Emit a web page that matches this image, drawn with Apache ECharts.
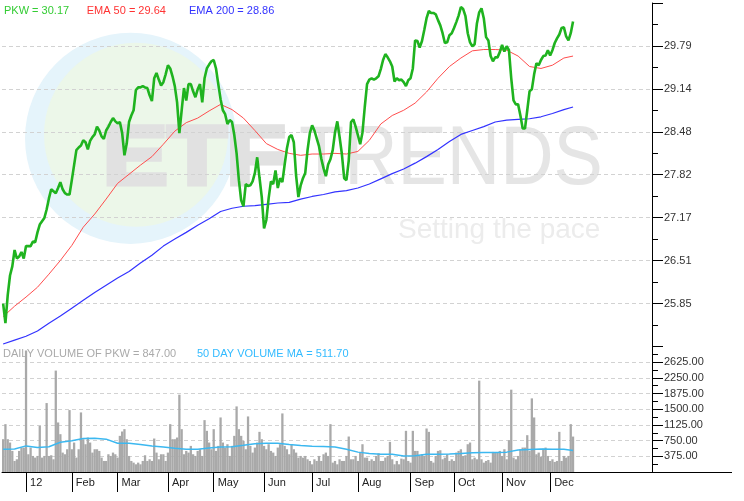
<!DOCTYPE html>
<html><head><meta charset="utf-8">
<script src="https://cdn.jsdelivr.net/npm/echarts@6/dist/echarts.min.js"></script>
<style>html,body{margin:0;padding:0;background:#fff}#c{width:744px;height:501px}</style>
</head><body><div id="c"></div>
<script>
const monthLabels = ['12','Feb','Mar','Apr','May','Jun','Jul','Aug','Sep','Oct','Nov','Dec'];
const monthStarts = [10,30,50,72,92,114,135,155,178,197,218,239];
const slotCount = 284;

const price = [
25.85,25.55,25.98,26.28,26.42,26.67,26.54,26.57,26.64,26.54,
26.73,26.73,26.73,26.80,26.79,26.94,27.06,27.11,27.16,27.29,
27.46,27.60,27.57,27.54,27.62,27.71,27.60,27.54,27.52,27.52,
27.74,27.97,28.20,28.24,28.27,28.35,28.32,28.21,28.34,28.40,
28.44,28.56,28.50,28.41,28.37,28.50,28.56,28.63,28.69,28.64,
28.61,28.63,28.46,28.12,28.30,28.63,28.73,28.81,29.12,29.16,
29.16,29.18,29.16,29.15,29.04,28.95,29.30,29.38,29.28,29.19,
29.24,29.36,29.50,29.45,29.33,29.18,28.93,28.46,28.81,29.15,
28.96,29.21,29.21,29.10,29.01,29.13,29.21,28.93,29.30,29.45,
29.51,29.56,29.58,29.45,29.21,28.98,28.81,28.75,28.60,28.66,
28.63,28.43,28.15,27.74,27.43,27.34,27.68,27.65,27.66,27.72,
27.85,28.09,27.78,27.48,27.00,27.13,27.46,27.72,27.68,27.89,
27.62,27.77,27.71,27.98,28.23,28.40,28.43,28.32,27.81,27.48,
27.66,27.77,27.85,28.20,28.46,28.58,28.50,28.38,28.26,28.07,
27.92,27.80,27.98,28.06,28.20,28.47,28.64,28.40,28.14,27.77,
27.74,28.04,28.63,28.67,28.56,28.43,28.29,28.47,28.86,29.21,
29.28,29.30,29.28,29.30,29.33,29.44,29.58,29.67,29.62,29.56,
29.48,29.25,29.30,29.27,29.28,29.24,29.18,29.27,29.30,29.45,
29.88,29.87,29.77,29.87,30.04,30.22,30.33,30.30,30.30,30.28,
30.19,30.11,29.99,29.84,29.85,29.96,29.99,30.07,30.16,30.26,
30.39,30.36,30.25,29.99,29.85,29.79,29.82,30.14,30.31,30.37,
30.22,29.93,29.88,29.64,29.56,29.62,29.62,29.70,29.81,29.71,
29.79,29.73,29.30,28.96,28.90,28.90,28.73,28.53,28.53,28.81,
29.10,29.13,29.36,29.53,29.50,29.58,29.64,29.65,29.73,29.65,
29.73,29.84,29.91,29.97,30.07,30.08,29.94,29.88,29.99,30.17
];

const emaIdx = [0,5,10,15,20,25,30,35,40,45,50,55,60,65,70,75,80,85,90,95,100,105,110,115,120,125,130,135,140,145,150,155,160,165,170,175,180,185,190,195,200,205,210,215,220,225,230,235,240,245,249];
const ema50Vals = [
25.65,25.81,25.95,26.10,26.30,26.51,26.74,27.02,27.22,27.45,
27.69,27.83,27.97,28.10,28.29,28.49,28.62,28.69,28.80,28.90,
28.82,28.69,28.50,28.30,28.21,28.15,28.12,28.14,28.14,28.15,
28.14,28.18,28.35,28.60,28.73,28.81,28.92,29.09,29.30,29.48,
29.61,29.72,29.74,29.74,29.73,29.64,29.48,29.45,29.50,29.61,
29.64];
const ema200Vals = [
25.23,25.29,25.35,25.43,25.55,25.66,25.78,25.90,26.02,26.13,
26.24,26.34,26.47,26.59,26.73,26.84,26.94,27.05,27.15,27.26,
27.31,27.34,27.35,27.37,27.39,27.40,27.45,27.49,27.52,27.56,
27.58,27.62,27.68,27.76,27.84,27.91,28.00,28.10,28.21,28.33,
28.44,28.50,28.56,28.63,28.66,28.67,28.68,28.71,28.76,28.82,
28.86];

const volume = [
784,1144,784,704,504,264,304,504,584,584,
2904,424,584,384,344,384,1104,344,384,1648,
384,400,304,2424,1184,904,464,424,544,1480,
544,704,344,544,1424,784,664,824,704,464,
544,544,504,344,264,264,424,384,464,424,
344,864,968,1024,784,384,264,224,184,224,
184,264,400,264,304,264,800,464,304,424,
424,264,464,1144,784,784,824,1848,1024,424,
504,464,624,424,384,504,544,384,1240,984,
704,544,1024,504,624,1304,704,584,664,384,
624,864,1568,1024,864,744,544,1328,624,464,
584,704,960,784,624,544,664,504,464,384,
584,664,1400,624,544,424,664,544,464,344,
384,344,384,304,264,184,304,264,384,264,
424,464,384,1144,224,264,184,304,264,264,
384,848,304,304,384,264,464,664,344,344,
264,304,264,384,448,264,264,344,384,720,
304,184,264,184,320,304,984,264,224,984,
504,504,384,424,384,1040,960,264,224,384,
504,520,304,344,424,264,304,264,464,504,
544,384,400,664,704,304,344,304,2184,304,
224,264,288,224,480,464,464,504,384,544,
304,760,1968,344,304,384,544,584,584,880,
504,1760,1304,424,464,368,560,584,384,264,
304,240,264,960,264,384,344,384,1144,847
];
const volMAVals = [
544,550,624,585,605,710,745,800,808,785,
688,688,660,620,595,566,544,544,572,595,
606,640,675,688,688,660,635,615,608,600,
545,475,440,424,424,384,390,424,424,430,
440,458,464,464,475,525,540,550,545,544,
511.7];

const priceTickLabels = ['25.85','26.51','27.17','27.82','28.48','29.14','29.79'];
const volTickLabels = ['375.00','750.00','1125.00','1500.00','1875.00','2250.00','2625.00'];

const pMin = 25.1925, pInt = 0.6575, pMax = pMin + 8 * pInt;
const categories = Array.from({length: slotCount}, (_, i) => String(i));
function sparse(vals) {
  const a = new Array(price.length).fill(null);
  emaIdx.forEach((k, j) => { a[k] = vals[j]; });
  return a;
}
const isMonthStart = (i) => monthStarts.indexOf(i) >= 0;
const FONT = 'Liberation Sans, Arial, sans-serif';

const chart = echarts.init(document.getElementById('c'), null, {renderer: 'canvas'});
chart.setOption({
  animation: false,
  backgroundColor: '#fff',
  grid: [
    {left: 2, right: 92, top: 3, height: 343.5},
    {left: 2, right: 92, top: 346.5, height: 125.5}
  ],
  xAxis: [
    {type: 'category', gridIndex: 0, data: categories, boundaryGap: true,
     axisLine: {show: false}, axisTick: {show: false}, axisLabel: {show: false}, splitLine: {show: false}},
    {type: 'category', gridIndex: 1, data: categories, boundaryGap: true, position: 'bottom',
     axisLine: {show: true, lineStyle: {color: '#000', width: 1}},
     axisTick: {show: true, alignWithLabel: true, length: 20, interval: (i) => isMonthStart(i), lineStyle: {color: '#000', width: 1}},
     axisLabel: {show: true, interval: (i) => isMonthStart(i), align: 'left', padding: [0, 0, 0, 4], margin: 5,
       fontSize: 11, color: '#222', fontFamily: FONT,
       formatter: (v, i) => monthLabels[monthStarts.indexOf(Number(v))] || ''},
     splitLine: {show: false}}
  ],
  yAxis: [
    {type: 'value', gridIndex: 0, position: 'right', min: pMin, max: pMax, interval: pInt,
     axisLine: {show: true, lineStyle: {color: '#000', width: 1}},
     axisTick: {show: true, length: 11, lineStyle: {color: '#000'}},
     minorTick: {show: true, splitNumber: 2, length: 6, lineStyle: {color: '#000'}},
     axisLabel: {show: true, margin: 12, fontSize: 11, color: '#333', fontFamily: FONT, showMinLabel: false, showMaxLabel: false,
       formatter: (v) => { const k = Math.round((v - pMin) / pInt); return priceTickLabels[k - 1] || ''; }},
     splitLine: {show: true, showMinLine: false, showMaxLine: false, lineStyle: {color: '#d2d2d2', type: [4, 3], width: 1}}},
    {type: 'value', gridIndex: 1, position: 'right', min: 0, max: 3000, interval: 375,
     axisLine: {show: true, lineStyle: {color: '#000', width: 1}},
     axisTick: {show: true, length: 11, lineStyle: {color: '#000'}},
     minorTick: {show: true, splitNumber: 2, length: 6, lineStyle: {color: '#000'}},
     axisLabel: {show: true, margin: 12, fontSize: 11, color: '#333', fontFamily: FONT, showMinLabel: false, showMaxLabel: false,
       formatter: (v) => { const k = Math.round(v / 375); return volTickLabels[k - 1] || ''; }},
     splitLine: {show: true, showMinLine: false, showMaxLine: false, lineStyle: {color: '#d2d2d2', type: [4, 3], width: 1}}}
  ],
  graphic: {elements: [
    {type: 'circle', z: -10, silent: true, shape: {cx: 130.6, cy: 138.3, r: 105.6}, style: {fill: '#e5f4fb'}},
    {type: 'circle', z: -9, silent: true, shape: {cx: 136, cy: 134.7, r: 92}, style: {fill: '#ecf7e9'}},
    {type: 'text', z: -8, silent: true, x: 103, y: 161, scaleX: 1.15, style: {text: 'ETF', x: 0, y: 0, verticalAlign: 'middle', font: 'bold 84px ' + FONT, fill: '#e1e1e1', stroke: '#e1e1e1', lineWidth: 5}},
    {type: 'text', z: -8, silent: true, x: 299, y: 161, scaleX: 0.88, style: {text: 'TRENDS', x: 0, y: 0, verticalAlign: 'middle', font: '84px ' + FONT, fill: '#e5e5e5'}},
    {type: 'text', z: -8, silent: true, style: {text: 'Setting the pace', x: 398, y: 230, verticalAlign: 'middle', font: '28px ' + FONT, fill: '#ececec'}},
    {type: 'line', z: 5, silent: true, shape: {x1: 652, y1: 472.5, x2: 732, y2: 472.5}, style: {stroke: '#000', lineWidth: 1}},
    {type: 'text', z: 10, style: {text: 'PKW = 30.17', x: 4, y: 10.5, verticalAlign: 'middle', font: '11px ' + FONT, fill: '#33cc33'}},
    {type: 'text', z: 10, style: {text: 'EMA 50 = 29.64', x: 86.7, y: 10.5, verticalAlign: 'middle', font: '11px ' + FONT, fill: '#ff3333'}},
    {type: 'text', z: 10, style: {text: 'EMA 200 = 28.86', x: 189, y: 10.5, verticalAlign: 'middle', font: '11px ' + FONT, fill: '#3333ff'}},
    {type: 'text', z: 10, style: {text: 'DAILY VOLUME OF PKW = 847.00', x: 3, y: 354, verticalAlign: 'middle', font: '11px ' + FONT, fill: '#aaaaaa'}},
    {type: 'text', z: 10, style: {text: '50 DAY VOLUME MA = 511.70', x: 197, y: 354, verticalAlign: 'middle', font: '11px ' + FONT, fill: '#33bbff'}}
  ]},
  series: [
    {name: 'EMA 200', type: 'line', xAxisIndex: 0, yAxisIndex: 0, data: sparse(ema200Vals), connectNulls: true,
     showSymbol: false, symbol: 'none', lineStyle: {color: '#3333ff', width: 1.2}, z: 3},
    {name: 'EMA 50', type: 'line', xAxisIndex: 0, yAxisIndex: 0, data: sparse(ema50Vals), connectNulls: true,
     showSymbol: false, symbol: 'none', lineStyle: {color: '#ff4d4d', width: 1}, z: 3},
    {name: 'PKW', type: 'line', xAxisIndex: 0, yAxisIndex: 0, data: price,
     showSymbol: false, symbol: 'none', lineStyle: {color: '#1fb31f', width: 2.6}, z: 4},
    {name: 'Volume', type: 'bar', xAxisIndex: 1, yAxisIndex: 1, data: volume, barCategoryGap: '0%',
     itemStyle: {color: '#a9a9a9'}, z: 2},
    {name: 'Volume MA', type: 'line', xAxisIndex: 1, yAxisIndex: 1, data: sparse(volMAVals), connectNulls: true,
     showSymbol: false, symbol: 'none', lineStyle: {color: '#3cb8f0', width: 1.5}, z: 3}
  ]
});
</script></body></html>
